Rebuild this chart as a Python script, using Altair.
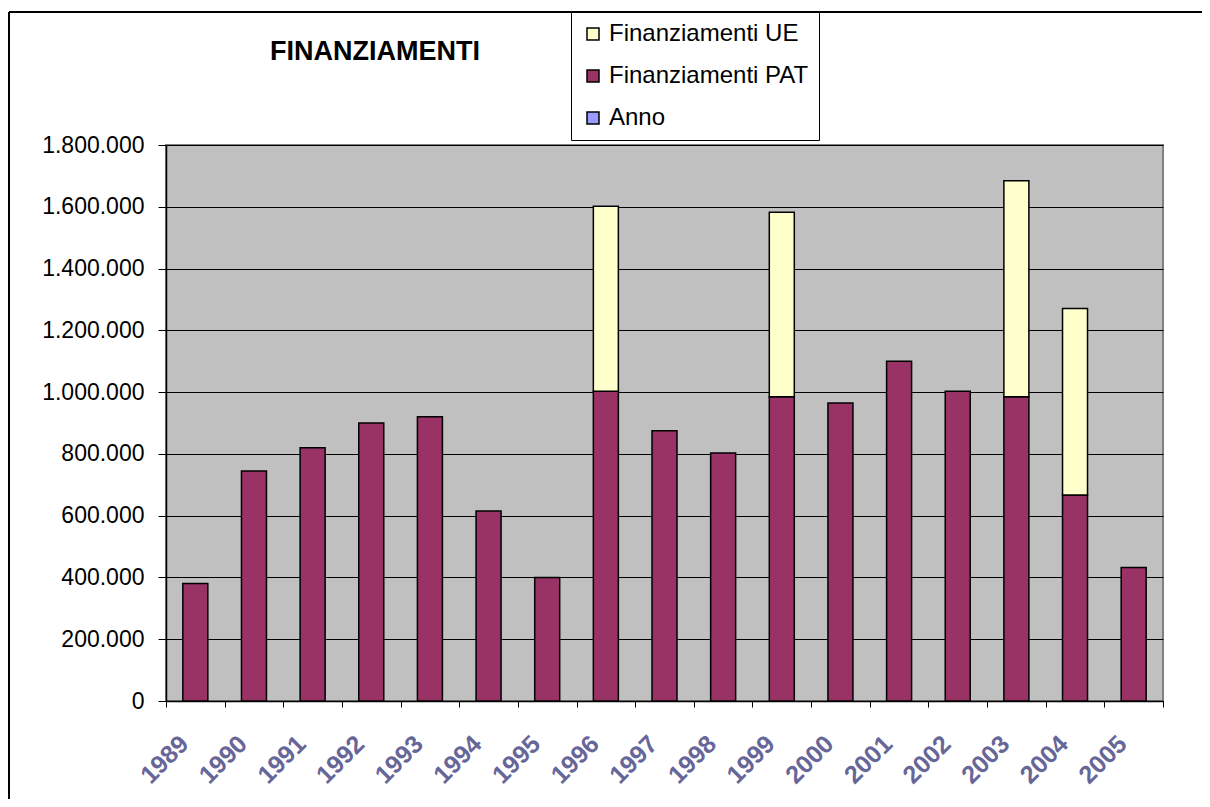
import altair as alt
import pandas as pd

years = [str(y) for y in range(1989, 2006)]
pat = [380000, 745000, 820000, 900000, 920000, 615000, 400000, 1003000,
       875000, 803000, 985000, 965000, 1100000, 1003000, 985000, 667000, 432000]
ue = [0, 0, 0, 0, 0, 0, 0, 599000, 0, 0, 597000, 0, 0, 0, 699000, 604000, 0]
series_names = ["Finanziamenti UE", "Finanziamenti PAT", "Anno"]
series_colors = ["#FFFFCC", "#993366", "#9999FF"]
y_ticks = [0, 200000, 400000, 600000, 800000, 1000000, 1200000, 1400000, 1600000, 1800000]
title_text = "FINANZIAMENTI"

rows = []
for y, p, u in zip(years, pat, ue):
    rows.append({"Anno": y, "Serie": "Finanziamenti PAT", "Valore": p, "ord": 0})
    if u > 0:
        rows.append({"Anno": y, "Serie": "Finanziamenti UE", "Valore": u, "ord": 1})
df = pd.DataFrame(rows)

W, H = 997, 556
PL, PT, PR, PB = 158, 137, 39, 98
FONT = "Liberation Sans"

bars = alt.Chart(df).mark_bar(size=25, stroke="black", strokeWidth=1.5).encode(
    x=alt.X("Anno:N", sort=years,
            scale=alt.Scale(paddingInner=0, paddingOuter=0),
            axis=alt.Axis(title=None, labelAngle=-45, labelFontWeight="bold",
                          labelColor="#666699", labelFontSize=25, labelFont=FONT,
                          tickBand="extent", tickColor="black", tickSize=6,
                          domainColor="black", domainWidth=1.5,
                          labelPadding=24, labelOffset=-20)),
    y=alt.Y("Valore:Q", stack="zero",
            scale=alt.Scale(domain=[0, 1800000], nice=False),
            axis=alt.Axis(title=None, values=y_ticks,
                          labelExpr="replace(replace(format(datum.value, ',d'), ',', '.'), ',', '.')",
                          grid=True, gridColor="black", gridWidth=1,
                          tickColor="black", tickSize=8, domainColor="black", domainWidth=1.5,
                          labelFontSize=23, labelFont=FONT, labelColor="black",
                          labelPadding=14)),
    color=alt.Color("Serie:N",
                    scale=alt.Scale(domain=series_names, range=series_colors),
                    legend=alt.Legend(title=None, orient="none", legendX=405, legendY=-133,
                                      fillColor="white", strokeColor="black", padding=10,
                                      symbolType="square", symbolSize=144,
                                      symbolStrokeColor="black", symbolStrokeWidth=1.5,
                                      symbolOpacity=1,
                                      labelFontSize=24, labelFont=FONT, labelColor="black",
                                      rowPadding=18, labelOffset=4, labelLimit=400)),
    order=alt.Order("ord:Q"),
)

one = pd.DataFrame([{"t": title_text}])

title = alt.Chart(one).mark_text(fontSize=27, fontWeight="bold", font=FONT,
                                 color="black", align="center", baseline="middle").encode(
    x=alt.value(209), y=alt.value(-93), text="t:N")

border_top = alt.Chart(one).mark_rule(color="black", strokeWidth=2).encode(
    x=alt.value(-157), x2=alt.value(W + PR), y=alt.value(-133))
border_left = alt.Chart(one).mark_rule(color="black", strokeWidth=2).encode(
    x=alt.value(-157), y=alt.value(-133), y2=alt.value(H + PB))

chart = alt.layer(bars, title, border_top, border_left).properties(
    width=W, height=H,
    autosize=alt.AutoSizeParams(type="none"),
    padding={"left": PL, "top": PT, "right": PR, "bottom": PB},
    background="white",
).configure_view(
    fill="#C0C0C0", stroke="#808080", strokeWidth=2
)

chart.save("out.html", embed_options={"renderer": "svg", "actions": False})
